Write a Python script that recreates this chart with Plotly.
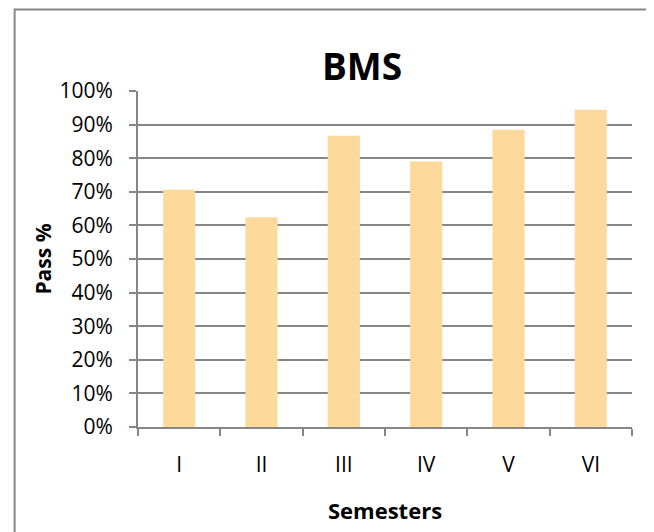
import plotly.graph_objects as go

# Pass percentages per semester
semesters = ["I", "II", "III", "IV", "V", "VI"]
pass_pct = [0.706, 0.624, 0.867, 0.790, 0.885, 0.944]
y_ticks = [i / 10 for i in range(11)]

GRID = "#868686"
BAR = "#FDD99B"
FONT = "'Open Sans', Lato, sans-serif"

# the page body adds an 8px margin, so the figure is 8px smaller
W, H = 646, 524
PL, PR, PT, PB = 129.5, 22, 83, 103
PW, PH = W - PL - PR, H - PT - PB

fig = go.Figure(
    go.Bar(
        x=semesters,
        y=pass_pct,
        marker=dict(color=BAR, line=dict(width=0)),
        hoverinfo="x+y",
    )
)

fig.update_layout(
    width=W,
    height=H,
    margin=dict(l=PL, r=PR, t=PT, b=PB),
    paper_bgcolor="white",
    plot_bgcolor="white",
    bargap=0.61,
    showlegend=False,
    font=dict(family=FONT, color="#000000", size=21),
    title=dict(
        text="<b>BMS</b>",
        font=dict(size=37, family=FONT, color="#000000"),
        x=354 / W,
        xanchor="center",
        y=1 - 59 / H,
        yanchor="middle",
    ),
)

fig.update_xaxes(
    type="category",
    showline=True,
    linecolor=GRID,
    linewidth=2,
    ticks="outside",
    tickson="boundaries",
    ticklen=7,
    tickwidth=2,
    tickcolor=GRID,
    showgrid=False,
    tickfont=dict(size=21, family=FONT),
    ticklabelstandoff=18,
    title=dict(text="<b>Semesters</b>", font=dict(size=22, family=FONT), standoff=26),
)

fig.update_yaxes(
    range=[0, 1],
    tickvals=y_ticks,
    tickformat=".0%",
    showline=True,
    linecolor=GRID,
    linewidth=2,
    ticks="outside",
    ticklen=7,
    tickwidth=2,
    tickcolor=GRID,
    showgrid=True,
    gridcolor=GRID,
    gridwidth=2,
    zeroline=False,
    tickfont=dict(size=21, family=FONT),
    ticklabelstandoff=12,
    title=dict(text="<b>Pass %</b>", font=dict(size=21, family=FONT), standoff=2),
)

# chart frame border (page pixels -> plot-area fractions)
fig.add_shape(
    type="rect",
    xref="paper", yref="paper",
    x0=(6 - PL) / PW, x1=(640 - PL) / PW,
    y0=-(PB + 20) / PH, y1=(H - PB - 1) / PH,
    line=dict(color=GRID, width=2),
    fillcolor="rgba(0,0,0,0)",
    layer="below",
)

fig.write_html("out.html")
